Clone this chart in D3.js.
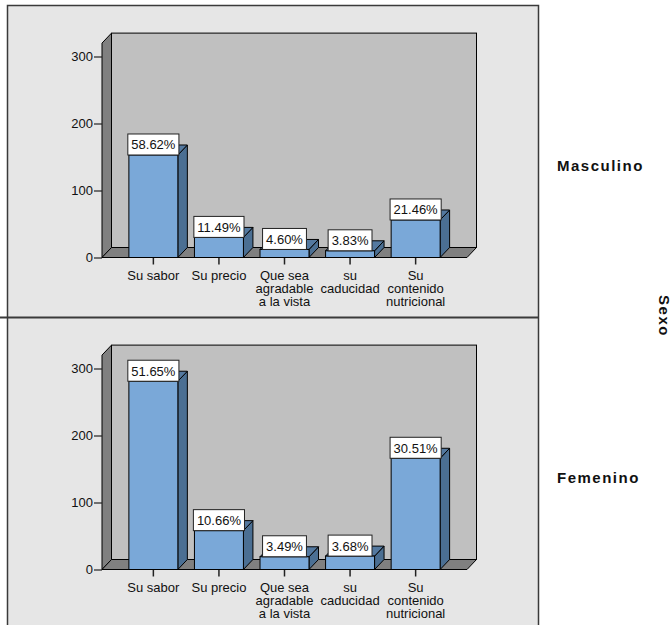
<!DOCTYPE html>
<html>
<head>
<meta charset="utf-8">
<script src="https://cdn.jsdelivr.net/npm/d3@7"></script>
<style>
  html, body { margin: 0; padding: 0; background: #ffffff; }
  svg { display: block; font-family: Arial, "Liberation Sans", sans-serif; }
</style>
</head>
<body>
<svg id="chart" width="672" height="625"></svg>
<script>
// Motivos de compra por sexo (frecuencias)
const categories = [
  "Su sabor",
  "Su precio",
  "Que sea\nagradable\na la vista",
  "su\ncaducidad",
  "Su\ncontenido\nnutricional"
];
const groups = ["Masculino", "Femenino"];
const countsMasculino = [153, 30, 12, 10, 56];
const countsFemenino = [281, 58, 19, 20, 166];
const yTicks = [0, 100, 200, 300];
const yMax = 320;
const facetTitle = "Sexo";

const seriesByGroup = [countsMasculino, countsFemenino];

const svg = d3.select("#chart");

// Layout of the two stacked panels
const frameLeft = 7.5, frameRight = 538.5, frameTop = 5.5, sepY = 317.5;
const panelTops = [frameTop, sepY];
const zeroOffset = 252;        // panel top -> value 0 baseline
const plotHeight = 214.4;      // height of value range [0, yMax]
const xLeft = 102, xRight = 467;
const depthX = 9.5, depthY = 10;

const colors = {
  panel: "#e6e6e6",
  backWall: "#c0c0c0",
  floor: "#808080",
  barFront: "#7aa8d8",
  barSide: "#4b6f93",
  barTop: "#5479a0",
  frame: "#3a3a3a"
};

// Panel backgrounds
svg.append("rect")
  .attr("x", frameLeft).attr("y", frameTop)
  .attr("width", frameRight - frameLeft).attr("height", 625 - frameTop)
  .attr("fill", colors.panel);

const x = d3.scaleBand()
  .domain(categories)
  .range([xLeft, xRight])
  .paddingInner(0.253)
  .paddingOuter(0.41);

groups.forEach((group, gi) => {
  const top = panelTops[gi];
  const zero = top + zeroOffset;
  const y = d3.scaleLinear().domain([0, yMax]).range([zero, zero - plotHeight]);
  const counts = seriesByGroup[gi];
  const total = d3.sum(counts);
  const g = svg.append("g");

  const yTop = y(yMax);

  // Back wall
  g.append("rect")
    .attr("x", xLeft + depthX).attr("y", yTop - depthY)
    .attr("width", xRight - xLeft).attr("height", zero - yTop)
    .attr("fill", colors.backWall).attr("stroke", "#000").attr("stroke-width", 1);

  // Left wall
  g.append("path")
    .attr("d", d3.line()([
      [xLeft, zero], [xLeft, yTop], [xLeft + depthX, yTop - depthY], [xLeft + depthX, zero - depthY]
    ]) + "Z")
    .attr("fill", colors.floor).attr("stroke", "#000").attr("stroke-width", 1);

  // Floor
  g.append("path")
    .attr("d", d3.line()([
      [xLeft, zero], [xLeft + depthX, zero - depthY], [xRight + depthX, zero - depthY], [xRight, zero]
    ]) + "Z")
    .attr("fill", colors.floor).attr("stroke", "#000").attr("stroke-width", 1);

  // Y axis
  const yAxis = d3.axisLeft(y).tickValues(yTicks).tickSize(8).tickPadding(1);
  const ya = g.append("g").attr("transform", `translate(${xLeft},0)`).call(yAxis);
  ya.select(".domain").remove();
  ya.selectAll(".tick line").attr("stroke", "#222").attr("stroke-width", 1.2);
  ya.selectAll(".tick text")
    .attr("font-size", 13).attr("fill", "#111")
    .attr("font-family", "Arial, 'Liberation Sans', sans-serif");

  // X axis ticks with multi-line labels
  const xAxis = d3.axisBottom(x).tickSize(7).tickFormat("");
  const xa = g.append("g").attr("transform", `translate(0,${zero})`).call(xAxis);
  xa.select(".domain").remove();
  xa.selectAll(".tick line").attr("stroke", "#222").attr("stroke-width", 1.5);
  xa.selectAll(".tick").each(function(d) {
    const lines = d.split("\n");
    const t = d3.select(this).append("text")
      .attr("text-anchor", "middle")
      .attr("font-size", 13).attr("fill", "#111")
      .attr("font-family", "Arial, 'Liberation Sans', sans-serif");
    lines.forEach((ln, i) => {
      t.append("tspan").attr("x", 0).attr("y", 22 + i * 13.3).text(ln);
    });
  });

  // Bars
  const bw = x.bandwidth();
  const bars = g.append("g").selectAll("g.bar")
    .data(categories.map((c, i) => ({ c, v: counts[i] })))
    .join("g").attr("class", "bar");

  bars.append("path")
    .attr("d", d => {
      const x0 = x(d.c) + bw, y0 = y(d.v);
      return d3.line()([[x0, y0], [x0 + depthX, y0 - depthY], [x0 + depthX, zero - depthY], [x0, zero]]) + "Z";
    })
    .attr("fill", colors.barSide).attr("stroke", "#000").attr("stroke-width", 1);

  bars.append("path")
    .attr("d", d => {
      const x0 = x(d.c), y0 = y(d.v);
      return d3.line()([[x0, y0], [x0 + depthX, y0 - depthY], [x0 + bw + depthX, y0 - depthY], [x0 + bw, y0]]) + "Z";
    })
    .attr("fill", colors.barTop).attr("stroke", "#000").attr("stroke-width", 1);

  bars.append("rect")
    .attr("x", d => x(d.c)).attr("y", d => y(d.v))
    .attr("width", bw).attr("height", d => zero - y(d.v))
    .attr("fill", colors.barFront).attr("stroke", "#000").attr("stroke-width", 1);

  // Percentage labels
  const fmt = d3.format(".2%");
  bars.each(function(d) {
    const b = d3.select(this);
    const cx = x(d.c) + bw / 2;
    const yb = y(d.v);
    const box = b.append("rect").attr("fill", "#fff").attr("stroke", "#222").attr("stroke-width", 1);
    const txt = b.append("text")
      .attr("x", cx).attr("y", yb - 5.5)
      .attr("text-anchor", "middle")
      .attr("font-size", 13).attr("fill", "#111")
      .attr("font-family", "Arial, 'Liberation Sans', sans-serif")
      .text(fmt(d.v / total));
    const w = txt.node().getComputedTextLength() + 7;
    box.attr("x", cx - w / 2).attr("y", yb - 21).attr("width", w).attr("height", 21);
  });

  // Row label
  svg.append("text")
    .attr("x", 557).attr("y", zero - 92 + 5.5)
    .attr("font-size", 15).attr("font-weight", "bold")
    .attr("letter-spacing", 1.5)
    .attr("fill", "#111")
    .attr("font-family", "Arial, 'Liberation Sans', sans-serif")
    .text(group);
});

// Panel frame lines
const frame = svg.append("g").attr("stroke", colors.frame).attr("stroke-width", 1.5).attr("fill", "none");
frame.append("path").attr("d", d3.line()([[frameLeft, 625], [frameLeft, frameTop], [frameRight, frameTop], [frameRight, 625]]));
frame.append("line").attr("x1", 0).attr("x2", frameRight).attr("y1", sepY).attr("y2", sepY).attr("stroke-width", 2);

// Facet title
svg.append("text")
  .attr("transform", "translate(659,316) rotate(90)")
  .attr("text-anchor", "middle")
  .attr("font-size", 15).attr("font-weight", "bold")
  .attr("letter-spacing", 1.5)
  .attr("fill", "#111")
  .attr("font-family", "Arial, 'Liberation Sans', sans-serif")
  .text(facetTitle);
</script>
</body>
</html>
